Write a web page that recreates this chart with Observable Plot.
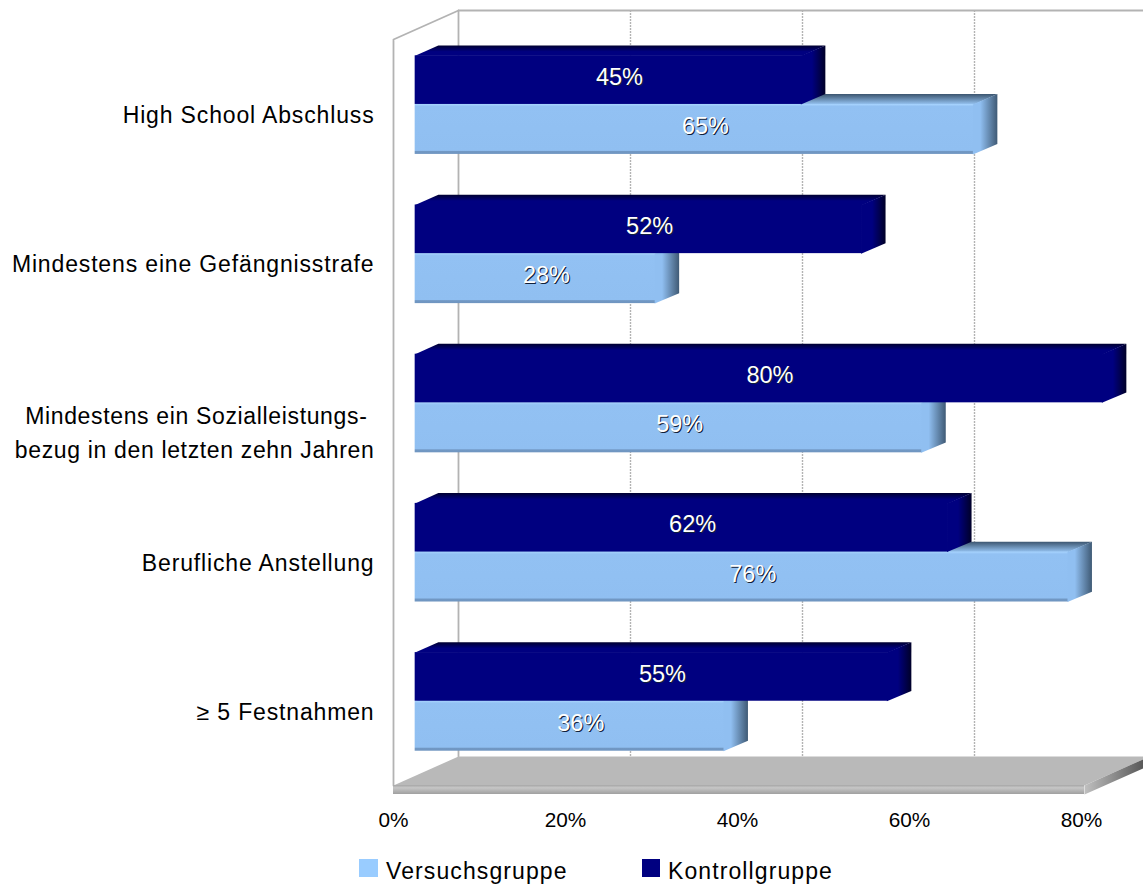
<!DOCTYPE html>
<html>
<head>
<meta charset="utf-8">
<script src="https://cdn.jsdelivr.net/npm/d3@7"></script>
<script src="https://cdn.jsdelivr.net/npm/@observablehq/plot@0.6"></script>
<style>
html,body{margin:0;padding:0;background:#fff;overflow:hidden;font-family:"Liberation Sans",Arial,sans-serif;color:#000}
#chart{position:relative;width:1143px;height:884px;overflow:hidden}
#chart svg{display:block;overflow:hidden}
#chart svg g[aria-label="y-axis tick label"]{letter-spacing:0.85px}
#chart svg g[aria-label="y-axis tick label"].two{letter-spacing:0.65px}
#legend{position:absolute;left:0;top:856px;width:1143px;height:28px;font-size:23px;letter-spacing:1.1px}
#legend span{position:absolute;white-space:nowrap}
#legend i{position:absolute;display:block;top:3px;height:18px}
</style>
</head>
<body>
<div id="chart">
<div id="plot"></div>
<div id="legend">
<i style="left:359px;width:19px;background:#99ccff"></i><span id="l1" style="left:386px;top:2px">Versuchsgruppe</span>
<i style="left:642px;width:18px;background:#000080"></i><span id="l2" style="left:668px;top:2px">Kontrollgruppe</span>
</div>
</div>
<script>
const categories = [
  "High School Abschluss",
  "Mindestens eine Gefängnisstrafe",
  "Mindestens ein Sozialleistungs- \nbezug in den letzten zehn Jahren",
  "Berufliche Anstellung",
  "≥ 5 Festnahmen"
];
const versuchsgruppe = [65, 28, 59, 76, 36];
const kontrollgruppe = [45, 52, 80, 62, 55];
const xTicks = [0, 20, 40, 60, 80];

// pseudo-3D depth, expressed in scale units (percent, rows)
const DX = 65 / 8.6, DY = 29 / 149.2;
const D1 = 1 / 3, D2 = 0.69;
const XEND = 80.35, LIP = 9 / 149.2, SEAM = 0.15;
const P = (v, r, d) => ({x: v + d * DX, y: r - d * DY});

function faces(values, t1, t2) {
  const top = [], side = [], front = [];
  values.forEach((v, i) => {
    const a = i + t1, b = i + t2;
    top.push(...[P(0, a, D1), P(0, a, D2), P(v, a, D2), P(v, a, D1)].map(p => ({...p, z: i})));
    side.push(...[P(v - SEAM, a, D1), P(v, a, D2), P(v, b, D2), P(v - SEAM, b, D1)].map(p => ({...p, z: i})));
    const p1 = P(0, a, D1), p2 = P(v, b, D1);
    front.push({x1: p1.x, x2: p2.x, y1: p1.y, y2: p2.y});
  });
  return {top, side, front};
}
const light = faces(versuchsgruppe, 0.5, 0.835);
const dark = faces(kontrollgruppe, 0.174, 0.5);

const valueLabels = (values, t) => values.map((v, i) => {
  const p = P(v / 2, i + t, 0.5);
  return {x: p.x, y: p.y, text: v + "%"};
});
const lightLabels = valueLabels(versuchsgruppe, 0.667);
const darkLabels = valueLabels(kontrollgruppe, 0.337);

const poly = (pts, fill) => Plot.line(pts, {x: "x", y: "y", z: "z", fill, stroke: "none"});
const front = (rows, fill) => Plot.rect(rows, {x1: "x1", x2: "x2", y1: "y1", y2: "y2", fill});

const defs = () => {
  const g = d3.create("svg:g");
  g.html(`<defs>
    <linearGradient id="lf" x1="0" y1="0" x2="0" y2="1">
      <stop offset="0" stop-color="#a9d5ff"/><stop offset="0.05" stop-color="#92c1f3"/>
      <stop offset="0.93" stop-color="#90bff1"/><stop offset="0.95" stop-color="#7198c4"/><stop offset="1" stop-color="#6f95c0"/>
    </linearGradient>
    <linearGradient id="lt" x1="0" y1="0" x2="0" y2="1">
      <stop offset="0" stop-color="#3c5670"/><stop offset="0.9" stop-color="#8db9e6"/>
    </linearGradient>
    <linearGradient id="ls" x1="0" y1="0" x2="1" y2="0">
      <stop offset="0" stop-color="#90bff1"/><stop offset="0.3" stop-color="#90bff1"/><stop offset="1" stop-color="#3f5a75"/>
    </linearGradient>
    <linearGradient id="dt" x1="0" y1="0" x2="0" y2="1">
      <stop offset="0" stop-color="#000030"/><stop offset="0.6" stop-color="#000080"/>
    </linearGradient>
    <linearGradient id="ds" x1="0" y1="0" x2="1" y2="0">
      <stop offset="0" stop-color="#000080"/><stop offset="0.45" stop-color="#000080"/><stop offset="1" stop-color="#000028"/>
    </linearGradient>
    <linearGradient id="fl" x1="0" y1="0" x2="0" y2="1">
      <stop offset="0" stop-color="#a6a6a6"/><stop offset="0.3" stop-color="#c6c6c6"/><stop offset="1" stop-color="#a0a0a0"/>
    </linearGradient>
    <linearGradient id="fs" x1="0" y1="0" x2="1" y2="0">
      <stop offset="0" stop-color="#c0c0c0"/><stop offset="1" stop-color="#4d4d4d"/>
    </linearGradient>
  </defs>`);
  return g.node();
};

const floorTop = [P(0, 5, 0), P(0, 5, 1), P(XEND, 5, 1), P(XEND, 5, 0)].map(p => ({...p, z: 0}));
const floorSide = [P(XEND, 5, 0), P(XEND, 5, 1), P(XEND, 5 + LIP, 1), P(XEND, 5 + LIP, 0)].map(p => ({...p, z: 0}));
const wallTop = [P(0, 5, 0), P(0, 0, 0), P(0, 0, 1), P(XEND, 0, 1)].map(p => ({...p, z: 0}));
const wallBack = [P(0, 0, 1), P(0, 5, 1)].map(p => ({...p, z: 0}));

const WALL = "#b3b3b3";
const plot = Plot.plot({
  width: 1143,
  height: 856,
  marginLeft: 393,
  marginRight: 62,
  marginTop: 39,
  marginBottom: 71,
  style: {fontFamily: '"Liberation Sans", Arial, sans-serif', background: "#fff", color: "#000"},
  x: {domain: [0, 80], range: [393, 1081]},
  y: {domain: [0, 5], range: [39, 785]},
  marks: [
    defs,
    Plot.ruleX(xTicks.slice(1), {x: d => d + DX, y1: -DY, y2: 5 - DY, stroke: WALL, strokeWidth: 1.4, strokeDasharray: "2,1"}),
    Plot.line(wallTop, {x: "x", y: "y", stroke: WALL, strokeWidth: 1.8}),
    Plot.line(wallBack, {x: "x", y: "y", stroke: WALL, strokeWidth: 1.8}),
    poly(floorTop, "#b9b9b9"),
    poly(floorSide, "url(#fs)"),
    Plot.rect([{x1: 0, x2: XEND, y1: 5, y2: 5 + LIP}], {x1: "x1", x2: "x2", y1: "y1", y2: "y2", fill: "url(#fl)"}),
    poly(light.top, "url(#lt)"),
    front(light.front, "url(#lf)"),
    poly(light.side, "url(#ls)"),
    poly(dark.top, "url(#dt)"),
    front(dark.front, "#000080"),
    poly(dark.side, "url(#ds)"),
    ...[lightLabels, darkLabels].flatMap(rows => [
      Plot.text(rows, {x: "x", y: "y", text: "text", fontSize: 23.5, fill: "#10203a", dx: 1, dy: 3}),
      Plot.text(rows, {x: "x", y: "y", text: "text", fontSize: 23.5, fill: "#fff", dy: 2})
    ]),
    Plot.axisX({ticks: xTicks, tickSize: 0, tickPadding: 27, tickFormat: d => d + "%", fontSize: 20.8, anchor: "bottom", label: null}),
    Plot.axisY({ticks: [0.5, 1.5, 3.5, 4.5], tickSize: 0, tickPadding: 19, fontSize: 23, anchor: "left", label: null, dy: 1.5,
      tickFormat: d => categories[Math.floor(d)]}),
    Plot.axisY({ticks: [2.5], tickSize: 0, tickPadding: 19, fontSize: 23, anchor: "left", label: null, dy: 18, lineHeight: 1.48,
      className: undefined, tickFormat: d => categories[Math.floor(d)]})
  ]
});
const axisGroups = plot.querySelectorAll('g[aria-label="y-axis tick label"]');
if (axisGroups.length) axisGroups[axisGroups.length - 1].classList.add("two");
document.getElementById("plot").appendChild(plot);
</script>
</body>
</html>
